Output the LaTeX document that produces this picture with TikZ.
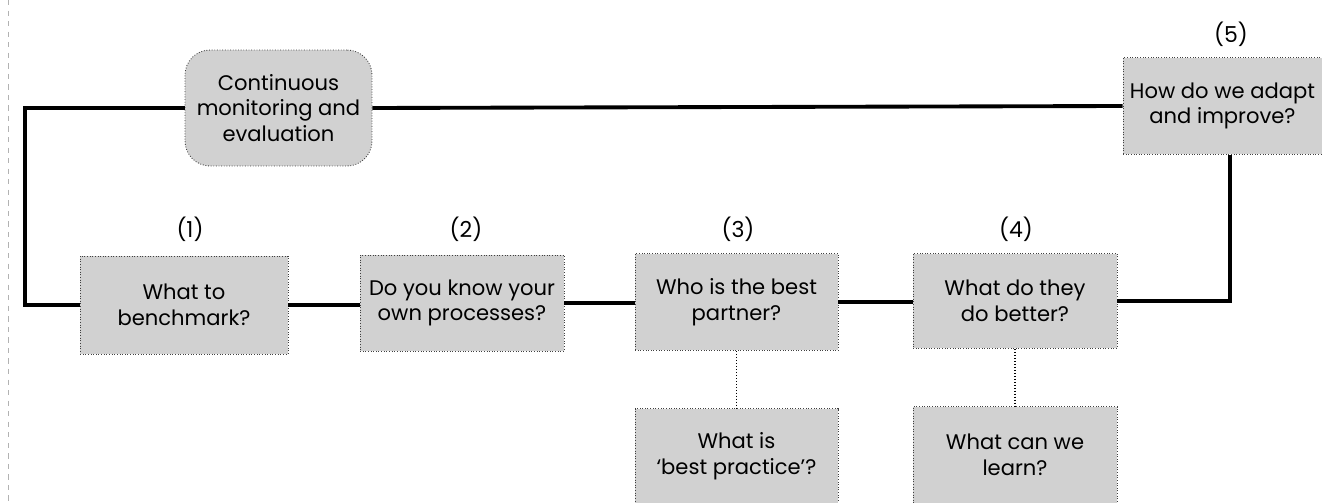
\documentclass[tikz,border=0pt]{standalone}
\usepackage{fontspec}
\setmainfont{Poppins}
\begin{document}
\begin{tikzpicture}[x=0.02cm,y=-0.02cm,
  box/.style={draw=black!75, densely dotted, line width=0.5pt, fill=black!18, align=center, inner sep=0pt, font=\fontsize{12}{14.5}\selectfont},
  link/.style={line width=2.2pt, solid},
  sublink/.style={densely dotted, line width=0.7pt},
  num/.style={font=\fontsize{12.5}{14}\selectfont}]
\useasboundingbox (0,0) rectangle (1322,503);
\draw[gray!60, dashed, line width=0.4pt] (8,0) -- (8,503);
% nodes
\node[box, rounded corners=0.5cm, minimum width=3.74cm, minimum height=2.32cm] (mon) at (278.5,108) {Continuous\\monitoring and\\evaluation};
\node[box, minimum width=3.98cm, minimum height=1.94cm] (b5) at (1222.5,106) {How do we adapt\\and improve?};
\node[box, minimum width=4.16cm, minimum height=1.96cm] (b1) at (184,305) {What to\\benchmark?};
\node[box, minimum width=4.08cm, minimum height=1.92cm] (b2) at (462,303) {Do you know your\\own processes?};
\node[box, minimum width=4.06cm, minimum height=1.94cm] (b3) at (736.5,302) {Who is the best\\partner?};
\node[box, minimum width=4.08cm, minimum height=1.90cm] (b4) at (1015,301) {What do they\\do better?};
\node[box, minimum width=4.06cm, minimum height=1.90cm] (s3) at (736.5,456) {What is\\`best practice'?};
\node[box, minimum width=4.08cm, minimum height=1.94cm] (s4) at (1015,455) {What can we\\learn?};
% numbers
\node[num] (n1) at (190,229) {(1)};
\node[num] (n2) at (466,229) {(2)};
\node[num] (n3) at (738,229) {(3)};
\node[num] (n4) at (1016,229) {(4)};
\node[num] (n5) at (1231,34) {(5)};
% connectors
\coordinate (lc) at (25,305);
\draw[link] (mon.west) -| (lc) -- (b1.west);
\draw[link] (mon.east) -- (b5.west);
\draw[link] (b1.east) -- (b1.east -| b2.west);
\draw[link] (b2.east) -- (b2.east -| b3.west);
\draw[link] (b3.east) -- (b3.east -| b4.west);
\draw[link] ([xshift=0.15cm]b5.south) |- (b4.east);
\draw[sublink] (b3.south) -- (s3.north);
\draw[sublink] (b4.south) -- (s4.north);
\end{tikzpicture}
\end{document}
